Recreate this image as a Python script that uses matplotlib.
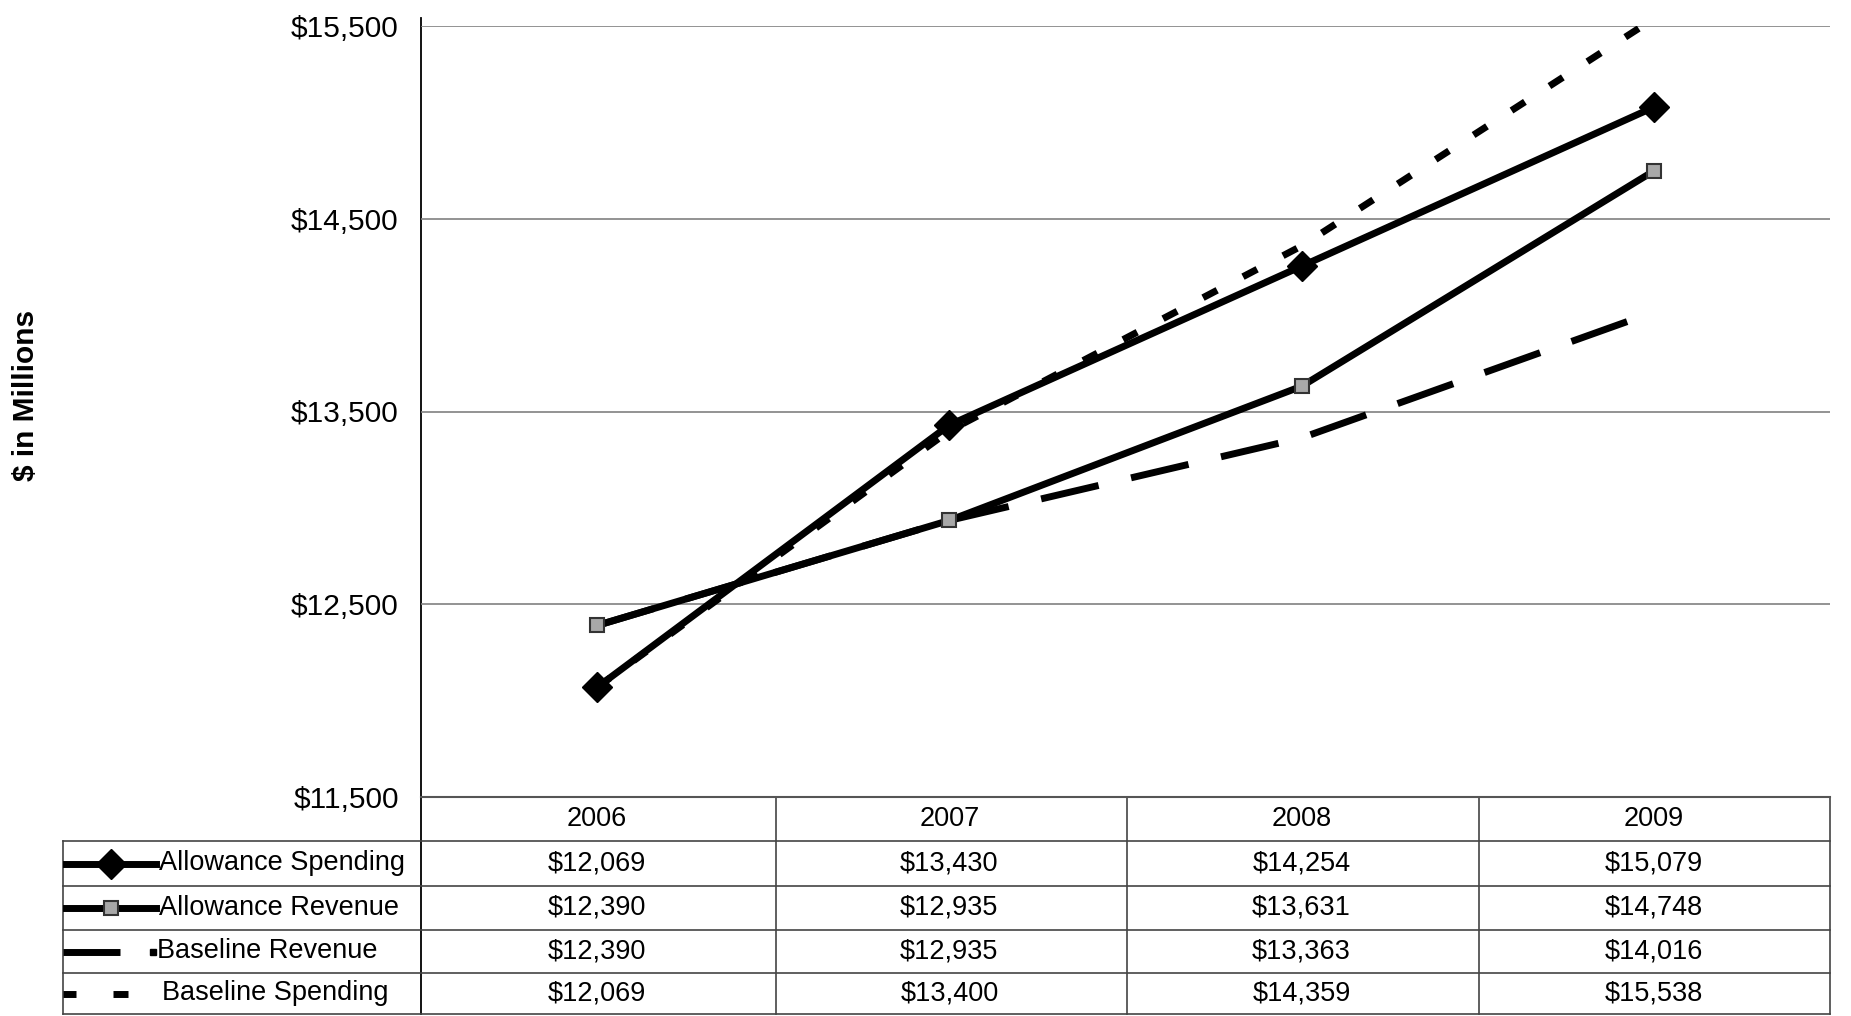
import matplotlib
matplotlib.use("Agg")
import matplotlib.pyplot as plt

plt.rcParams['font.family'] = ['Liberation Sans', 'DejaVu Sans']

# data
years = ['2006', '2007', '2008', '2009']
allowance_spending = [12069, 13430, 14254, 15079]
allowance_revenue = [12390, 12935, 13631, 14748]
baseline_revenue = [12390, 12935, 13363, 14016]
baseline_spending = [12069, 13400, 14359, 15538]
series_names = ['Allowance Spending', 'Allowance Revenue', 'Baseline Revenue', 'Baseline Spending']
y_ticks = [11500, 12500, 13500, 14500, 15500]

W, H = 1851, 1016
fig = plt.figure(figsize=(W / 100, H / 100), dpi=100)

# overlay in pixel units for the data table below the plot
tab = fig.add_axes([0, 0, 1, 1])
tab.set_xlim(0, W)
tab.set_ylim(H, 0)
tab.axis('off')

# plot area
x0, x1, ytop, ybot = 421, 1830, 26, 797
ax = fig.add_axes([x0 / W, 1 - ybot / H, (x1 - x0) / W, (ybot - ytop) / H])
ax.set_facecolor('none')

styles = [
    dict(color='black', lw=5, marker='D', ms=15, mfc='black', mec='black', zorder=5),
    dict(color='black', lw=5, marker='s', ms=10, mfc='#a8a8a8', mec='#333333', mew=1.5, zorder=4),
    dict(color='black', lw=5, dashes=(8.5, 4.8), dash_capstyle='butt', zorder=3),
    dict(color='black', lw=5, dashes=(2.3, 4.2), dash_capstyle='butt', zorder=3),
]
all_series = [allowance_spending, allowance_revenue, baseline_revenue, baseline_spending]
xs = list(range(len(years)))
for vals, st in zip(all_series, styles):
    ax.plot(xs, vals, **st)

ax.set_xlim(-0.5, len(years) - 0.5)
ax.set_ylim(y_ticks[0], y_ticks[-1])
ax.set_yticks(y_ticks)
ax.set_yticklabels([r'\$' + f'{v:,}' for v in y_ticks], fontsize=21.5)
ax.set_xticks([])
ax.tick_params(axis='y', length=0, pad=16)
ax.yaxis.grid(True, color='#808080', lw=1.2)
for s in ['top', 'right', 'left']:
    ax.spines[s].set_visible(False)
ax.spines['bottom'].set_color('#555555')
ax.spines['bottom'].set_linewidth(1.5)

fig.text(26 / W, 1 - 395 / H, r'\$ in Millions', rotation=90, fontsize=21.5,
         fontweight='bold', ha='center', va='center')

# table grid
lc = '#444444'
row_lines = [841, 886, 930, 973, 1014]
col_lines = [776, 1127, 1479, 1830]
tab.plot([x0, x0], [18, row_lines[-1]], color='black', lw=1.3)
for y in row_lines:
    tab.plot([63, x1], [y, y], color=lc, lw=1.2)
tab.plot([63, 63], [row_lines[0], row_lines[-1]], color=lc, lw=1.2)
for x in col_lines:
    tab.plot([x, x], [ybot, row_lines[-1]], color=lc, lw=1.2)

col_w = (x1 - x0) / len(years)
centers = [x0 + col_w * (i + 0.5) for i in range(len(years))]
for cx, yr in zip(centers, years):
    tab.text(cx, (ybot + row_lines[0]) / 2, yr, fontsize=19.5, ha='center', va='center')

for r, (name, vals, st) in enumerate(zip(series_names, all_series, styles)):
    yc = (row_lines[r] + row_lines[r + 1]) / 2
    for cx, v in zip(centers, vals):
        tab.text(cx, yc, r'\$' + f'{v:,}', fontsize=19.5, ha='center', va='center')
    if r < 2:
        tab.plot([66, 156], [yc, yc], color='black', lw=5)
        tab.plot([111], [yc], linestyle='none', **{k: v for k, v in st.items()
                                                   if k in ('marker', 'ms', 'mfc', 'mec', 'mew')})
        tx = 159
    elif r == 2:
        tab.plot([63, 120], [yc, yc], color='black', lw=5, solid_capstyle='butt')
        tab.plot([153], [yc], marker='s', ms=4, color='black', linestyle='none')
        tx = 157
    else:
        tab.plot([63, 76], [yc, yc], color='black', lw=5, solid_capstyle='butt')
        tab.plot([113, 128], [yc, yc], color='black', lw=5, solid_capstyle='butt')
        tx = 162
    tab.text(tx, yc, name, fontsize=19.5, ha='left', va='center')

fig.savefig('out.png', dpi=100)
